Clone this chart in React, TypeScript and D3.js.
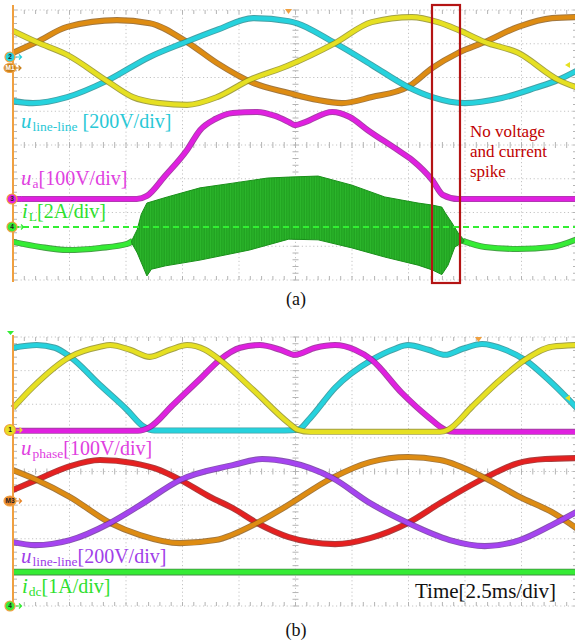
import React from "react";
import * as d3 from "d3";

type P = [number, number];

// all traces in screen divisions: [time div (0..10), value div (-4..4)]

// ---- panel (a) ----
const aOrange: P[] = [
  [0, 2.73], [0.42, 3.05], [0.96, 3.5], [1.84, 3.7], [2.42, 3.61], [3.08, 3.05], [3.61, 2.43],
  [4.25, 1.84], [4.88, 1.54], [5.4, 1.33], [5.82, 1.24], [6.35, 1.42], [6.99, 1.72], [7.42, 2.28],
  [7.88, 2.73], [8.35, 3.05], [8.94, 3.5], [9.54, 3.76], [10, 3.79],
];
const aCyan: P[] = [
  [0, 1.3], [0.35, 1.24], [0.96, 1.42], [1.66, 1.9], [2.42, 2.61], [3.01, 3.02], [3.61, 3.41],
  [4.25, 3.76], [4.88, 3.67], [5.7, 3.02], [6.35, 2.37], [6.99, 1.72], [7.42, 1.42], [8.0, 1.24],
  [8.65, 1.39], [9.24, 1.69], [9.65, 1.93], [10, 2.22],
];
const aYellow: P[] = [
  [0, 3.38], [0.42, 3.05], [0.96, 2.67], [1.66, 1.9], [2.12, 1.42], [2.6, 1.24], [3.08, 1.19],
  [3.61, 1.42], [4.19, 1.93], [4.85, 2.34], [5.7, 3.02], [6.35, 3.64], [7.06, 3.79], [7.52, 3.64],
  [7.88, 3.41], [8.35, 3.05], [8.94, 2.73], [9.65, 1.93], [10, 1.69],
];
const aPhaseA: P[] = [
  [0, -1.6], [2.19, -1.6], [2.37, -1.51], [2.69, -0.92], [3.08, -0.15], [3.31, 0.44], [3.58, 0.77],
  [3.89, 0.95], [4.32, 0.98], [4.64, 0.86], [4.88, 0.68], [4.99, 0.59], [5.17, 0.68], [5.65, 0.98],
  [5.96, 0.83], [6.28, 0.44], [6.81, -0.15], [7.06, -0.44], [7.42, -1.04], [7.61, -1.48],
  [7.88, -1.6], [10, -1.6],
];
const aCurrentBefore: P[] = [
  [0, -2.87], [0.48, -3.02], [0.96, -3.11], [1.54, -3.05], [2.02, -2.93], [2.12, -2.84],
];
// envelope of the switching ripple
const aCurrentUpper: P[] = [
  [2.1, -2.84], [2.2, -2.5], [2.27, -2.05], [2.37, -1.72], [2.73, -1.54], [3.31, -1.27], [3.89, -1.13],
  [4.5, -0.98], [4.88, -0.95], [5.4, -0.92], [6.0, -1.19], [6.58, -1.54], [7.17, -1.72],
  [7.42, -1.78], [7.59, -1.84], [7.65, -2.01], [7.77, -2.31], [7.88, -2.61], [7.98, -2.81],
];
const aCurrentLower: P[] = [
  [2.1, -2.9], [2.2, -3.2], [2.3, -3.6], [2.37, -3.88], [2.45, -3.68], [2.7, -3.58], [3.31, -3.41],
  [4.19, -3.11], [4.88, -2.79], [5.4, -2.81], [6.0, -3.05], [6.58, -3.32], [7.17, -3.56],
  [7.42, -3.7], [7.59, -3.84], [7.7, -3.56], [7.82, -3.02], [7.98, -2.87],
];
const aCurrentAfter: P[] = [
  [7.96, -2.84], [8.35, -3.02], [8.94, -3.08], [9.54, -3.02], [10, -2.78],
];
const aCurrentZero = -2.43;

// ---- panel (b) ----
const bCyan: P[] = [
  [0, 3.68], [0.42, 3.76], [0.74, 3.68], [1.01, 3.41], [1.54, 2.57], [2.02, 1.83], [2.3, 1.35],
  [2.51, 1.22], [4.81, 1.22], [5.04, 1.24], [5.26, 1.59], [5.7, 2.49], [6.35, 3.32], [6.76, 3.65],
  [6.99, 3.76], [7.35, 3.62], [7.65, 3.47], [7.96, 3.65], [8.3, 3.79], [8.71, 3.62], [9.06, 3.32],
  [9.54, 2.63], [10, 1.85],
];
const bYellow: P[] = [
  [0, 1.89], [0.35, 2.51], [1.01, 3.41], [1.54, 3.71], [1.72, 3.76], [2.07, 3.62], [2.42, 3.41],
  [2.78, 3.62], [3.08, 3.76], [3.4, 3.62], [3.66, 3.32], [4.25, 2.43], [4.88, 1.44], [5.04, 1.24],
  [5.26, 1.18], [7.56, 1.18], [7.7, 1.24], [8.12, 1.92], [8.58, 2.66], [9.06, 3.32], [9.54, 3.71],
  [10, 3.76],
];
const bMagenta: P[] = [
  [0, 1.21], [2.21, 1.21], [2.42, 1.32], [2.83, 1.98], [3.31, 2.75], [3.66, 3.32], [4.02, 3.68],
  [4.37, 3.76], [4.73, 3.62], [4.99, 3.47], [5.35, 3.68], [5.7, 3.76], [6.05, 3.62], [6.35, 3.32],
  [6.88, 2.34], [7.35, 1.62], [7.65, 1.24], [7.82, 1.18], [10, 1.18],
];
const bRed: P[] = [
  [0, -0.55], [0.42, -0.25], [1.01, 0.16], [1.54, 0.34], [2.12, 0.25], [2.6, 0.04], [2.96, -0.25],
  [3.49, -0.76], [3.89, -1.09], [4.32, -1.53], [4.88, -1.95], [5.26, -2.1], [5.7, -2.16],
  [6.32, -1.98], [6.99, -1.53], [7.56, -0.94], [8.35, -0.19], [8.94, 0.25], [9.42, 0.37], [10, 0.4],
];
const bOrange: P[] = [
  [0, 0.04], [0.42, -0.25], [1.01, -0.76], [1.72, -1.53], [2.25, -1.89], [2.96, -2.13],
  [3.58, -2.04], [4.32, -1.53], [4.81, -1.06], [5.65, -0.19], [6.32, 0.28], [6.99, 0.43],
  [7.56, 0.34], [8.35, -0.19], [8.97, -0.76], [9.54, -1.21], [10, -1.72],
];
const bPurple: P[] = [
  [0, -2.1], [0.39, -2.19], [1.01, -2.04], [1.72, -1.53], [2.25, -1.0], [2.96, -0.25],
  [3.89, 0.19], [4.41, 0.37], [4.88, 0.28], [5.65, -0.19], [6.32, -0.94], [6.99, -1.53],
  [7.73, -2.04], [8.35, -2.22], [8.97, -2.04], [9.54, -1.59], [10, -1.18],
];
const bDcCurrent: P[] = [[0, -2.99], [10, -2.99]];

const serif = "'Liberation Serif', 'Times New Roman', serif";

const x = d3.scaleLinear().domain([0, 10]).range([13, 578]);
const yA = d3.scaleLinear().domain([-4, 4]).range([280, 10]);
const yB = d3.scaleLinear().domain([-4, 4]).range([606, 337]);

function Trace({ pts, y, color, edge, w = 4.3 }: any) {
  const line = d3.line<P>().x(d => x(d[0])).y(d => y(d[1])).curve(d3.curveMonotoneX);
  const d = line(pts) || "";
  return (
    <g>
      <path d={d} fill="none" stroke={edge} strokeWidth={w + 1.8} strokeLinejoin="round" opacity={0.8} />
      <path d={d} fill="none" stroke={color} strokeWidth={w} strokeLinejoin="round" />
    </g>
  );
}

function Grid({ y }: any) {
  const grid = "#c4c4c4";
  const left = x(0), right = x(10), top = y(4), bottom = y(-4);
  const minorX = d3.range(0, 10.001, 0.2);
  const minorY = d3.range(-4, 4.001, 0.2);
  return (
    <g>
      {d3.range(1, 11).map(i => (
        <line key={"v" + i} x1={x(i)} x2={x(i)} y1={top} y2={bottom} stroke={grid} strokeWidth={1} strokeDasharray="1.2 2.6" />
      ))}
      {d3.range(-4, 5).map(i => (
        <line key={"h" + i} x1={left} x2={right} y1={y(i)} y2={y(i)} stroke={grid} strokeWidth={1} strokeDasharray="1.2 2.6" />
      ))}
      {minorX.map((t, i) => (
        <g key={"tx" + i} stroke="#b4b4b4" strokeWidth={1}>
          <line x1={x(t)} x2={x(t)} y1={top} y2={top + 4} />
          <line x1={x(t)} x2={x(t)} y1={bottom} y2={bottom - 4} />
          <line x1={x(t)} x2={x(t)} y1={y(0) - 3} y2={y(0) + 3} />
        </g>
      ))}
      {minorY.map((v, i) => (
        <g key={"ty" + i} stroke="#b4b4b4" strokeWidth={1}>
          <line x1={left} x2={left + 4} y1={y(v)} y2={y(v)} />
          <line x1={right} x2={right - 5} y1={y(v)} y2={y(v)} />
          <line x1={x(5) - 3} x2={x(5) + 3} y1={y(v)} y2={y(v)} />
        </g>
      ))}
    </g>
  );
}

function Marker({ cx, cy, label, fill, r = 5, text = "#222", rx }: any) {
  return (
    <g>
      {rx ? (
        <ellipse cx={cx} cy={cy} rx={rx} ry={r} fill={fill} stroke="#f0a040" strokeWidth={1.2} />
      ) : (
        <circle cx={cx} cy={cy} r={r} fill={fill} stroke="#f0a040" strokeWidth={1.2} />
      )}
      <text x={cx} y={cy + 2.3} textAnchor="middle" fontSize={6.5} fontFamily="Arial, sans-serif" fontWeight="bold" fill={text}>{label}</text>
      <path d={`M${cx + r + 1},${cy} h5 m-2,-2.5 l2.5,2.5 l-2.5,2.5`} stroke={fill} strokeWidth={1.2} fill="none" />
    </g>
  );
}

function Label({ x0, y0, main, sub, rest, color, subSize = 13.5, gap = 0 }: any) {
  return (
    <text x={x0} y={y0} fontFamily={serif} fontSize={20} fill={color}>
      <tspan fontStyle="italic" fontSize={21}>{main}</tspan>
      <tspan fontSize={subSize} dy={3} dx={1}>{sub}</tspan>
      <tspan dy={-3} dx={gap}>{rest}</tspan>
    </text>
  );
}

export default function App() {
  const bandPoly = aCurrentUpper.concat(aCurrentLower.slice().reverse());
  const band = d3.line<P>().x(d => x(d[0])).y(d => yA(d[1])).curve(d3.curveLinearClosed)(bandPoly) || "";

  const axisColor = "#f0a040";

  return (
    <svg width={575} height={643} style={{ position: "absolute", left: 0, top: 0, background: "#fff" }}>
      <defs>
        <pattern id="osc" width={2.5} height={12} patternUnits="userSpaceOnUse">
          <rect width={2.5} height={12} fill="#22a322" />
          <rect width={1} height={12} fill="#30c030" opacity={0.7} />
        </pattern>
      </defs>

      {/* ---------- panel (a) ---------- */}
      <Grid y={yA} />
      <Trace pts={aOrange} y={yA} color="#de8c12" edge="#8a5510" />
      <Trace pts={aCyan} y={yA} color="#26d2dd" edge="#17888f" />
      <Trace pts={aYellow} y={yA} color="#e6e022" edge="#8c8a18" />
      <Trace pts={aPhaseA} y={yA} color="#e020e0" edge="#8e108e" />
      <Trace pts={aCurrentBefore} y={yA} color="#35ec35" edge="#168816" />
      <Trace pts={aCurrentAfter} y={yA} color="#35ec35" edge="#168816" />
      <path d={band} fill="url(#osc)" stroke="#1a901a" strokeWidth={1} strokeLinejoin="round" />
      <line x1={x(0)} x2={575} y1={yA(aCurrentZero)} y2={yA(aCurrentZero)} stroke="#33ee33" strokeWidth={2} strokeDasharray="6 4" />

      <Label x0={21} y0={128} main="u" sub="line-line" rest=" [200V/div]" color="#2ac8d6" />
      <Label x0={21} y0={185} main="u" sub="a" rest="[100V/div]" color="#e040e0" />
      <Label x0={22} y0={218} main="i" sub="L" rest="[2A/div]" color="#2ee02e" />

      <rect x={432} y={5} width={28} height={278} fill="none" stroke="#b41414" strokeWidth={2.2} />
      <text fontFamily={serif} fontSize={17} fill="#c00000">
        <tspan x={470} y={137}>No voltage</tspan>
        <tspan x={470} y={157}>and current</tspan>
        <tspan x={470} y={177}>spike</tspan>
      </text>

      <line x1={13} x2={13} y1={5} y2={282} stroke={axisColor} strokeWidth={2} />
      <path d="M285,9 h7 l-3.5,5 z" fill={axisColor} />
      <path d="M565,65 l5,-3 v6 z" fill="#e6e022" />
      <Marker cx={10} cy={57} label="2" fill="#26d2dd" />
      <Marker cx={10} cy={68} label="M1" fill="#c9801a" rx={6} r={4.5} text="#fff" />
      <Marker cx={12} cy={199} label="3" fill="#e020e0" />
      <Marker cx={12} cy={227} label="4" fill="#35ec35" />

      <text x={296} y={305} textAnchor="middle" fontFamily={serif} fontSize={18} fill="#111">(a)</text>

      {/* ---------- panel (b) ---------- */}
      <Grid y={yB} />
      <Trace pts={bRed} y={yB} color="#e52020" edge="#901010" />
      <Trace pts={bOrange} y={yB} color="#de8c12" edge="#8a5510" />
      <Trace pts={bPurple} y={yB} color="#a544f0" edge="#66289a" />
      <Trace pts={bCyan} y={yB} color="#26d2dd" edge="#17888f" />
      <Trace pts={bMagenta} y={yB} color="#e020e0" edge="#8e108e" />
      <Trace pts={bYellow} y={yB} color="#e6e022" edge="#8c8a18" />
      <Trace pts={bDcCurrent} y={yB} color="#35ec35" edge="#146e14" w={5} />

      <Label x0={21} y0={455} main="u" sub="phase" rest="[100V/div]" color="#e040e0" />
      <Label x0={21} y0={563} main="u" sub="line-line" rest="[200V/div]" color="#a040e8" />
      <Label x0={22} y0={593} main="i" sub="dc" rest="[1A/div]" color="#2ee02e" />
      <text x={415} y={598} fontFamily={serif} fontSize={21} fill="#111">Time[2.5ms/div]</text>

      <line x1={13} x2={13} y1={335} y2={606} stroke={axisColor} strokeWidth={2} />
      <path d="M7,331 h7 l-3.5,4 z" fill="#35ec35" />
      <path d="M475,337 h7 l-3.5,5 z" fill={axisColor} />
      <path d="M565,398 l5,-3 v6 z" fill="#e6e022" />
      <Marker cx={10} cy={430} label="1" fill="#e6e022" r={5.5} />
      <Marker cx={10} cy={501} label="M3" fill="#e8862a" rx={6} r={5} text="#222" />
      <Marker cx={10} cy={606} label="4" fill="#35ec35" />

      <text x={296} y={636} textAnchor="middle" fontFamily={serif} fontSize={18} fill="#111">(b)</text>
    </svg>
  );
}
